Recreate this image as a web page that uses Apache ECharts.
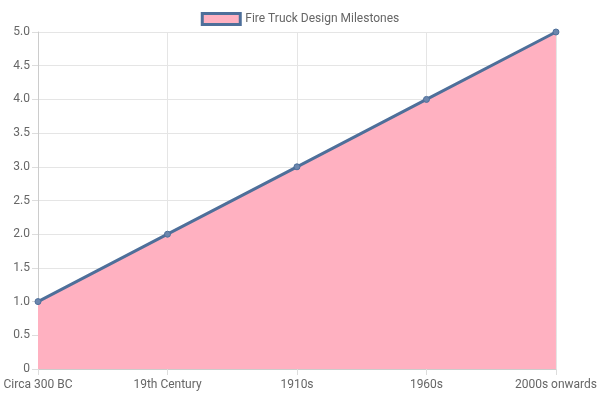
<!DOCTYPE html>
<html><head><meta charset="utf-8">
<script src="https://cdn.jsdelivr.net/npm/echarts@6/dist/echarts.min.js"></script>
<style>html,body{margin:0;padding:0}#c{width:600px;height:400px}</style>
</head><body><div id="c"></div>
<script>
const categories = ["Circa 300 BC","19th Century","1910s","1960s","2000s onwards"];
const values = [1,2,3,4,5];
const seriesName = "Fire Truck Design Milestones";
const chart = echarts.init(document.getElementById('c'));
chart.setOption({
  animation:false,
  textStyle:{fontFamily:'Roboto, "Liberation Sans", sans-serif'},
  legend:{top:7,left:'center',itemWidth:38,itemHeight:11,icon:'rect',
    textStyle:{color:'#666',fontSize:12},
    data:[{name:seriesName,itemStyle:{color:'#ffb1c1',borderColor:'#4e6f9a',borderWidth:3}}]},
  grid:{left:38,right:44,top:32,bottom:31},
  xAxis:{type:'category',data:categories,boundaryGap:false,
    axisLine:{lineStyle:{color:'#ccc'}},axisTick:{show:true,length:6,lineStyle:{color:'#ddd'}},
    axisLabel:{color:'#666',fontSize:12,margin:10,interval:0},
    splitLine:{show:true,lineStyle:{color:'#e5e5e5'}}},
  yAxis:{type:'value',min:0,max:5,interval:0.5,
    axisLine:{show:true,lineStyle:{color:'#ccc'}},axisTick:{show:true,length:6,lineStyle:{color:'#ddd'}},
    axisLabel:{color:'#666',fontSize:12,formatter:v=>v===0?'0':v.toFixed(1)},
    splitLine:{lineStyle:{color:'#e5e5e5'}}},
  series:[{name:seriesName,type:'line',data:values,symbol:'circle',symbolSize:6,
    lineStyle:{color:'#4e6f9a',width:3},
    itemStyle:{color:'#6b86ad',borderColor:'#4e6f9a',borderWidth:1},
    areaStyle:{color:'#ffb1c1',opacity:1}}]
});
</script></body></html>
